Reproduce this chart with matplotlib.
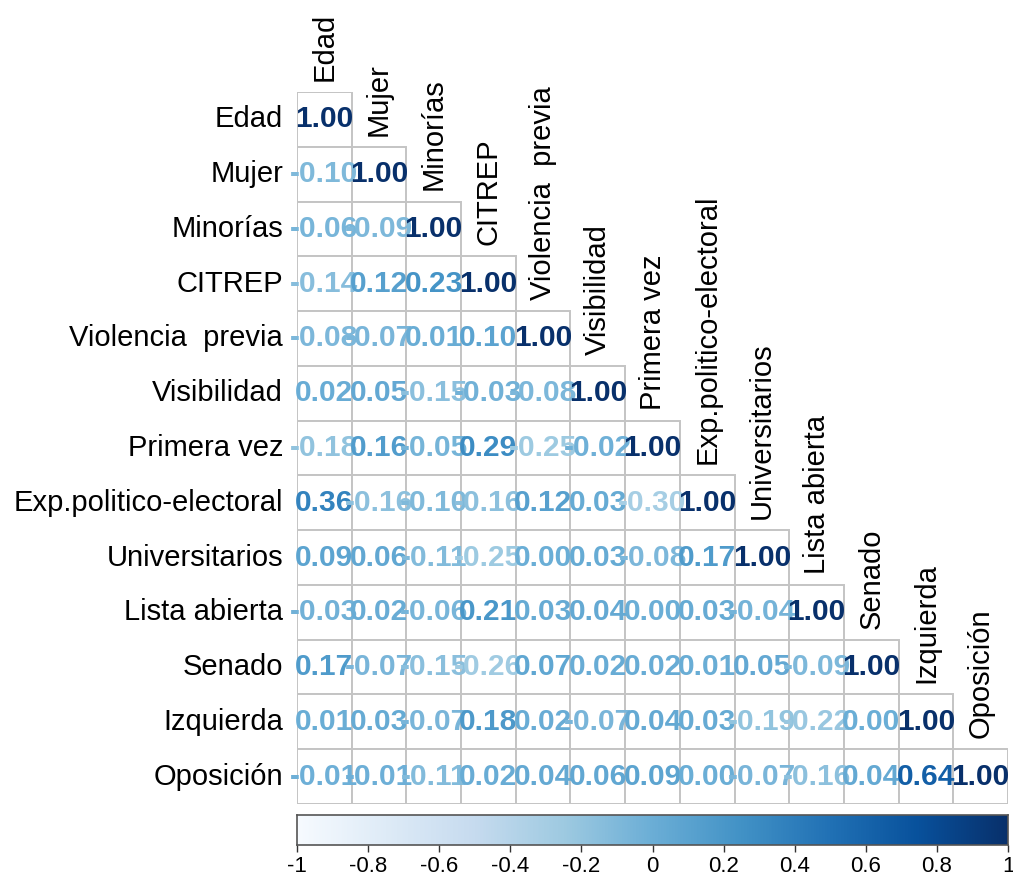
import matplotlib
matplotlib.use("Agg")
import matplotlib.pyplot as plt
import numpy as np
from matplotlib import font_manager as fm

labels = ["Edad", "Mujer", "Minorías", "CITREP", "Violencia  previa", "Visibilidad",
          "Primera vez", "Exp.politico-electoral", "Universitarios", "Lista abierta",
          "Senado", "Izquierda", "Oposición"]

r_mujer = [-0.10]
r_minorias = [-0.06, -0.09]
r_citrep = [-0.14, 0.12, 0.23]
r_violencia = [-0.08, -0.07, 0.01, 0.10]
r_visibilidad = [0.02, 0.05, -0.15, -0.03, -0.08]
r_primera = [-0.18, 0.16, -0.05, 0.29, -0.25, -0.02]
r_exp = [0.36, -0.16, -0.10, -0.16, 0.12, 0.03, -0.30]
r_univ = [0.09, 0.06, -0.11, -0.25, 0.00, 0.03, -0.08, 0.17]
r_lista = [-0.03, 0.02, -0.06, 0.21, 0.03, 0.04, 0.00, 0.03, -0.04]
r_senado = [0.17, -0.07, -0.15, -0.26, 0.07, 0.02, 0.02, 0.01, 0.05, -0.09]
r_izq = [0.01, 0.03, -0.07, 0.18, 0.02, -0.07, 0.04, 0.03, -0.19, -0.22, 0.00]
r_opos = [-0.01, -0.01, -0.11, 0.02, 0.04, 0.06, 0.09, 0.00, -0.07, -0.16, 0.04, 0.64]

cbar_ticks = [-1, -0.8, -0.6, -0.4, -0.2, 0, 0.2, 0.4, 0.6, 0.8, 1]
cbar_ticklabels = ["-1", "-0.8", "-0.6", "-0.4", "-0.2", "0", "0.2", "0.4", "0.6", "0.8", "1"]

rows = [[], r_mujer, r_minorias, r_citrep, r_violencia, r_visibilidad, r_primera,
        r_exp, r_univ, r_lista, r_senado, r_izq, r_opos]

n = len(labels)
M = np.full((n, n), np.nan)
for i, r in enumerate(rows):
    for j, v in enumerate(r):
        M[i, j] = v
    M[i, i] = 1.0

font = "Liberation Sans"
names = {f.name for f in fm.fontManager.ttflist}
narrow = "Liberation Sans Narrow" if "Liberation Sans Narrow" in names else font
plt.rcParams['font.family'] = [font, 'DejaVu Sans']

W, H = 1013, 881
fig = plt.figure(figsize=(W / 100, H / 100), dpi=100)
ax = fig.add_axes([297 / W, 1 - 804 / H, 711 / W, 712 / H])
ax.set_xlim(-0.5, n - 0.5)
ax.set_ylim(n - 0.5, -0.5)
ax.axis("off")

cmap = plt.cm.Blues
norm = matplotlib.colors.Normalize(-1, 1)
grid_col = "#C4C4C4"

for i in range(n):
    for j in range(i + 1):
        ax.add_patch(plt.Rectangle((j - 0.5, i - 0.5), 1, 1, facecolor="white",
                                   edgecolor=grid_col, lw=1.4, zorder=1))
for i in range(n):
    for j in range(i + 1):
        v = M[i, j]
        ax.text(j, i, f"{v:.2f}", ha="center", va="center", fontsize=21.5,
                fontweight="bold", color=cmap(norm(v)), zorder=3)

for i, lab in enumerate(labels):
    ax.annotate(lab, xy=(-0.5, i), xytext=(-10, 0), textcoords="offset points",
                ha="right", va="center", fontsize=21, color="black",
                annotation_clip=False)
    ax.annotate(lab, xy=(i, i - 0.5), xytext=(0, 8), textcoords="offset points",
                ha="center", va="bottom", rotation=90, fontsize=21, color="black",
                annotation_clip=False)

cax = fig.add_axes([297 / W, 1 - 845 / H, 711 / W, 30 / H])
grad = np.linspace(-1, 1, 512).reshape(1, -1)
cax.imshow(grad, aspect="auto", cmap=cmap, norm=norm, extent=(-1, 1, 0, 1))
cax.set_xlim(-1, 1)
cax.set_yticks([])
cax.set_xticks(cbar_ticks)
cax.set_xticklabels(cbar_ticklabels, fontsize=16, family=[narrow, 'DejaVu Sans'])
cax.tick_params(axis="x", direction="out", length=5, width=1, color="#333333", pad=3)
for s in cax.spines.values():
    s.set_edgecolor("#555555")
    s.set_linewidth(1.2)

fig.savefig("out.png", dpi=100)
